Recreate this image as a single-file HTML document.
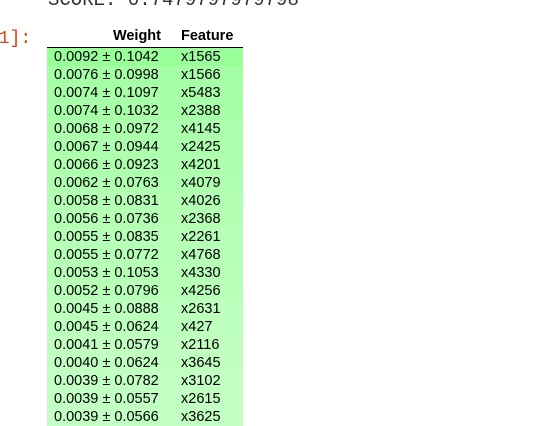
<!DOCTYPE html>
<html><head><meta charset="utf-8">
<style>
body{margin:0;width:543px;height:420px;overflow:hidden;background:#fff;position:relative;font-family:"Liberation Sans",Arial,sans-serif;}
.score{position:absolute;left:48px;top:-11px;font-family:"Liberation Mono",monospace;font-size:19px;color:#333;white-space:pre;}
.prompt{position:absolute;left:-12px;top:29px;font-family:"Liberation Mono",monospace;font-size:18px;color:#D84315;white-space:pre;}
table{position:absolute;left:47px;top:25px;border-collapse:collapse;font-size:14.5px;color:#000;}
th{font-weight:bold;height:18px;padding:0;line-height:22px;border-bottom:1px solid #000;vertical-align:bottom;}
td{height:17px;padding:1px 0 0 0;line-height:17px;white-space:nowrap;overflow:hidden;}
.w{width:127px;text-align:right;padding-right:13px;box-sizing:border-box;}
td.w{text-align:left;padding-left:7px;box-sizing:content-box;width:107px;height:17px;padding-right:13px;}
.f{width:69px;text-align:left;padding-left:7px;box-sizing:border-box;}
td.f{box-sizing:content-box;width:62px;}
</style></head><body>
<div class="score">SCORE: 0.7479797979798</div>
<div class="prompt">[1]:</div>
<table>
<thead><tr><th class="w">Weight</th><th class="f">Feature</th></tr></thead>
<tbody id="tb"></tbody>
</table>
<script>
const weights=[0.0092,0.0076,0.0074,0.0074,0.0068,0.0067,0.0066,0.0062,0.0058,0.0056,0.0055,0.0055,0.0053,0.0052,0.0045,0.0045,0.0041,0.0040,0.0039,0.0039,0.0039];
const stds=[0.1042,0.0998,0.1097,0.1032,0.0972,0.0944,0.0923,0.0763,0.0831,0.0736,0.0835,0.0772,0.1053,0.0796,0.0888,0.0624,0.0579,0.0624,0.0782,0.0557,0.0566];
const features=["x1565","x1566","x5483","x2388","x4145","x2425","x4201","x4079","x4026","x2368","x2261","x4768","x4330","x4256","x2631","x427","x2116","x3645","x3102","x2615","x3625"];
const tb=document.getElementById('tb');
const maxW=weights[0];
weights.forEach((w,i)=>{
  const tr=document.createElement('tr');
  
  
  const L=80+14*(1-w/maxW);
  tr.style.background='hsl(120,100%,'+L+'%)';
  const a=document.createElement('td');a.className='w';
  
  
  a.textContent=w.toFixed(4)+' \u00b1 '+stds[i].toFixed(4);
  const b=document.createElement('td');b.className='f';
  
  
  b.textContent=features[i];
  tr.appendChild(a);tr.appendChild(b);tb.appendChild(tr);
});
</script>
</body></html>
